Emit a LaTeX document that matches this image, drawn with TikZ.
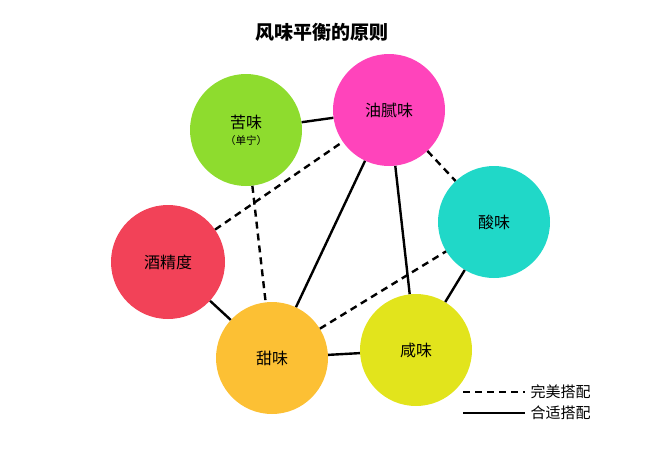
\documentclass[tikz,border=0pt]{standalone}
\usepackage{fontspec}
\setmainfont{Noto Sans CJK SC}
\begin{document}
\begin{tikzpicture}[x=1pt,y=-1pt,
  ball/.style={circle,minimum size=112pt,inner sep=0pt,font=\fontsize{16}{18}\selectfont,align=center},
  ok/.style={line width=2.4pt},
  best/.style={line width=2.4pt,dash pattern=on 7pt off 5pt}]
\useasboundingbox (0,0) rectangle (656,455);
\definecolor{cg}{HTML}{8EDC2E}\definecolor{cm}{HTML}{FF44BB}\definecolor{ct}{HTML}{20D8C8}
\definecolor{cr}{HTML}{F24258}\definecolor{co}{HTML}{FCC034}\definecolor{cy}{HTML}{E2E41C}
\node[font=\fontsize{19}{22}\selectfont\bfseries] (t) at (322,32) {风味平衡的原则};
\node[ball,fill=cg] (ku) at (246,130) {苦味\\[-2pt]{\fontsize{10.5}{12}\selectfont（单宁）}};
\node[ball,fill=cm] (you) at (389,110) {油腻味};
\node[ball,fill=ct] (suan) at (494,222) {酸味};
\node[ball,fill=cr,minimum size=114pt] (jiu) at (168,262) {酒精度};
\node[ball,fill=co] (tian) at (272,358) {甜味};
\node[ball,fill=cy] (xian) at (416,350) {咸味};
\draw[ok] (ku) -- (you);
\draw[best] (you) -- (suan);
\draw[best] (ku) -- (tian);
\draw[best] (jiu) -- (you);
\draw[best] (tian) -- (suan);
\draw[ok] (you) -- (tian);
\draw[ok] (you) -- (xian);
\draw[ok] (suan) -- (xian);
\draw[ok] (jiu) -- (tian);
\draw[ok] (tian) -- (xian);
\coordinate (l1a) at (463,392); \coordinate (l1b) at (525,392);
\coordinate (l2a) at (463,413); \coordinate (l2b) at (525,413);
\draw[best] (l1a) -- (l1b);
\draw[ok] (l2a) -- (l2b);
\node[anchor=west,font=\fontsize{15}{17}\selectfont] (lt1) at (527,392) {完美搭配};
\node[anchor=west,font=\fontsize{15}{17}\selectfont] (lt2) at (527,413) {合适搭配};
\end{tikzpicture}
\end{document}
